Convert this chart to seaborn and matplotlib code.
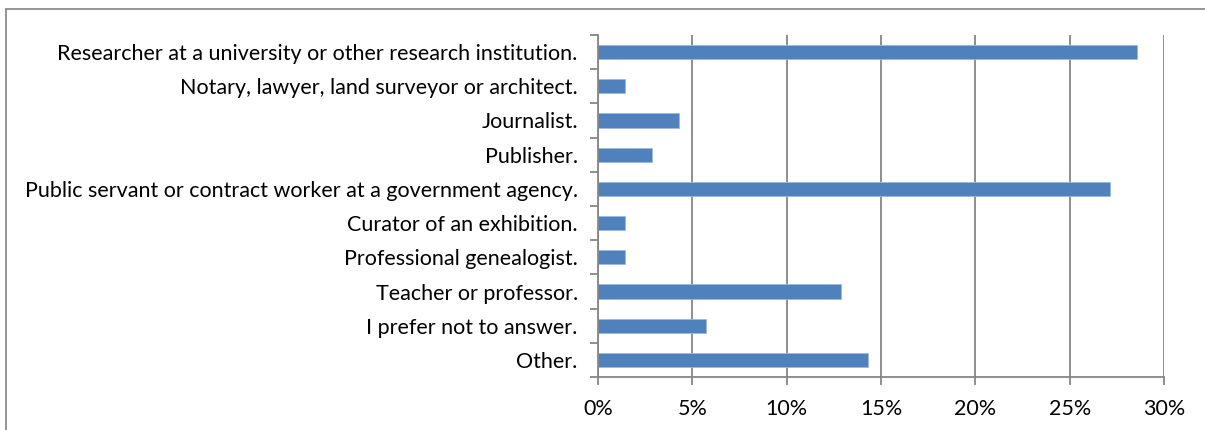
import matplotlib
matplotlib.use("Agg")
import matplotlib.pyplot as plt
import seaborn as sns
import pandas as pd
from matplotlib.patches import Rectangle
from matplotlib.ticker import FuncFormatter, FixedLocator

categories = [
    "Researcher at a university or other research institution.",
    "Notary, lawyer, land surveyor or architect.",
    "Journalist.",
    "Publisher.",
    "Public servant or contract worker at a government agency.",
    "Curator of an exhibition.",
    "Professional genealogist.",
    "Teacher or professor.",
    "I prefer not to answer.",
    "Other.",
]
values = [28.57, 1.43, 4.29, 2.86, 27.14, 1.43, 1.43, 12.86, 5.71, 14.29]
xticks = [0, 5, 10, 15, 20, 25, 30]

sns.set_theme(style="white")
plt.rcParams['font.family'] = ['Lato', 'DejaVu Sans']

df = pd.DataFrame({"cat": categories, "val": values})

fig = plt.figure(figsize=(12.05, 4.3), dpi=100)
ax = fig.add_axes([598/1205, 1-377/430, (1164-598)/1205, (377-35)/430])

sns.barplot(data=df, y="cat", x="val", orient="h", color="#4F81BD",
            saturation=1, width=0.41, edgecolor="#9DB8DC", linewidth=0.6, ax=ax)

grid_c = "#868686"
ax.set_xlim(0, 30)
ax.set_ylim(9.5, -0.5)
ax.set_xticks(xticks)
ax.xaxis.set_major_formatter(FuncFormatter(lambda v, p: f"{int(v)}%"))
ax.grid(axis="x", color=grid_c, linewidth=1.3)
ax.set_axisbelow(True)
ax.set_xlabel("")
ax.set_ylabel("")
for s in ["top", "right"]:
    ax.spines[s].set_visible(False)
for s in ["left", "bottom"]:
    ax.spines[s].set_color(grid_c)
    ax.spines[s].set_linewidth(1.3)

ax.yaxis.set_minor_locator(FixedLocator([i - 0.5 for i in range(len(categories) + 1)]))
ax.tick_params(axis="y", which="major", length=0, pad=14.5, labelsize=15.5, labelcolor="black")
ax.tick_params(axis="y", which="minor", left=True, length=6, width=1.3, color=grid_c)
ax.tick_params(axis="x", which="major", bottom=True, length=6, width=1.3, color=grid_c,
               pad=10, labelsize=15.5, labelcolor="black")

fig.patches.append(Rectangle((6/1205, -0.1), 1.2, 1 - 9/430 + 0.1, transform=fig.transFigure,
                             fill=False, edgecolor="#8C8C8C", linewidth=1.3))

fig.savefig("out.png", dpi=100, facecolor="white")
